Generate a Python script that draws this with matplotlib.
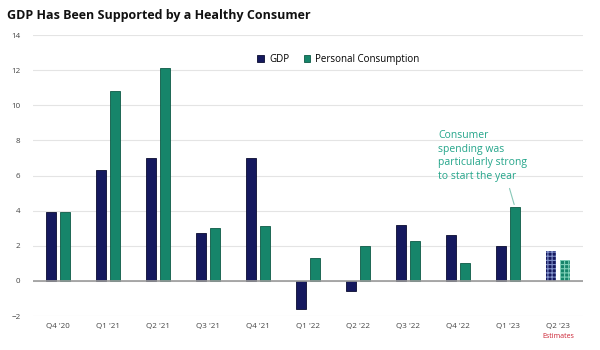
import matplotlib.pyplot as plt
import numpy as np

NAVY = '#15195e'
GREEN = '#16856a'
TEXTGREEN = '#24a58a'

quarters = ["Q4 '20", "Q1 '21", "Q2 '21", "Q3 '21", "Q4 '21", "Q1 '22",
            "Q2 '22", "Q3 '22", "Q4 '22", "Q1 '23", "Q2 '23"]
gdp = [3.9, 6.3, 7.0, 2.7, 7.0, -1.6, -0.6, 3.2, 2.6, 2.0, 1.7]
consumption = [3.9, 10.8, 12.1, 3.0, 3.1, 1.3, 2.0, 2.3, 1.0, 4.2, 1.2]
estimate = [False] * 10 + [True]

plt.rcParams['font.family'] = ['Open Sans', 'DejaVu Sans']
plt.rcParams['hatch.linewidth'] = 0.8

fig = plt.figure(figsize=(6, 3.5), dpi=100)
ax = fig.add_axes([0.055, 0.097, 0.917, 0.803])

x = np.arange(len(quarters))
w = 0.2
off = 0.14

for i in x:
    if estimate[i]:
        ax.bar(i - off, gdp[i], w, color=NAVY, edgecolor='#7f8fc8', hatch='++++', linewidth=0, zorder=3)
        ax.bar(i + off, consumption[i], w, color=GREEN, edgecolor='#7fd0b8', hatch='++++', linewidth=0, zorder=3)
    else:
        ax.bar(i - off, gdp[i], w, color=NAVY, edgecolor='#0a0c30', linewidth=0.6, zorder=3,
               label='GDP' if i == 0 else None)
        ax.bar(i + off, consumption[i], w, color=GREEN, edgecolor='#0d5a46', linewidth=0.6, zorder=3,
               label='Personal Consumption' if i == 0 else None)

ax.set_ylim(-2, 14)
ax.set_xlim(-0.5, len(quarters) - 0.5)
ax.set_yticks(range(-2, 15, 2))
ax.set_xticks(x)
ax.set_xticklabels(quarters)
ax.tick_params(axis='both', length=0, labelsize=5.8, colors='#444444')
ax.xaxis.set_tick_params(pad=5)
ax.yaxis.set_tick_params(pad=9)

ax.grid(axis='y', color='#e4e4e4', linewidth=0.8, zorder=0)
ax.axhline(0, color='#9a9a9a', linewidth=1.2, zorder=4)
for s in ax.spines.values():
    s.set_visible(False)

fig.text(0.012, 0.955, 'GDP Has Been Supported by a Healthy Consumer',
         fontsize=9, fontweight='bold', color='#111111', ha='left', va='center')

ax.legend(loc='upper center', bbox_to_anchor=(0.555, 0.965), ncol=2, frameon=False,
          fontsize=7, handlelength=0.7, handleheight=0.7, columnspacing=1.5, handletextpad=0.5)

ax.annotate('Consumer\nspending was\nparticularly strong\nto start the year',
            xy=(9 + off - 0.02, 4.35), xytext=(7.6, 5.65),
            fontsize=7.5, color=TEXTGREEN, ha='left', va='bottom', linespacing=1.3,
            arrowprops=dict(arrowstyle='-', color='#88c8b8', linewidth=0.8,
                            shrinkA=3, shrinkB=0, relpos=(0.78, 0)))

ax.text(10, -3.15, 'Estimates', fontsize=5, color='#cc2233', ha='center', va='center')

fig.savefig('out.png', dpi=100, facecolor='white')
